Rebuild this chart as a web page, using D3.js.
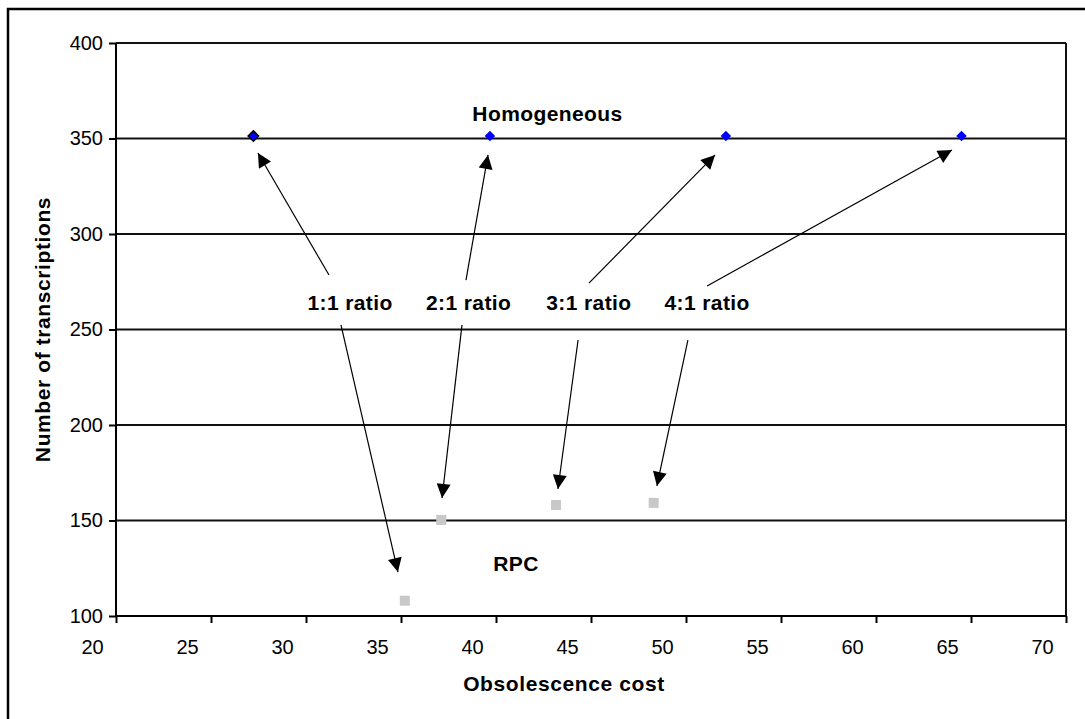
<!DOCTYPE html>
<html>
<head>
<meta charset="utf-8">
<script src="https://cdn.jsdelivr.net/npm/d3@7"></script>
<style>
  body { margin: 0; background: #fff; }
  svg { display: block; font-family: "Liberation Sans", Arial, sans-serif; }
</style>
</head>
<body>
<div class="chart_wrapper"></div>
<script>

// homogeneous series (blue diamonds)
const homogX = [27.23, 39.68, 52.1, 64.5]
const homogY = [351.3, 351.3, 351.3, 351.3]

// RPC series (grey squares)
const rpcX = [35.2, 37.12, 43.16, 48.3]
const rpcY = [108.0, 150.3, 158.1, 159.2]

const xTicks = [20, 25, 30, 35, 40, 45, 50, 55, 60, 65, 70]
const yTicks = [100, 150, 200, 250, 300, 350, 400]

// ratio labels with their two arrows (data coords)
const ratioLabels = ["1:1 ratio", "2:1 ratio", "3:1 ratio", "4:1 ratio"]
const labelX = [32.32, 38.56, 44.89, 51.11]
const labelY = [260.2, 260.2, 260.2, 260.2]
const upArrows = [
  [31.21, 278.5, 27.47, 342.4],
  [38.42, 275.9, 39.58, 341.4],
  [44.89, 274.3, 51.53, 341.4],
  [51.11, 272.8, 64.0, 344.0]
]
const downArrows = [
  [31.84, 252.4, 34.84, 123.0],
  [38.21, 252.4, 37.16, 161.8],
  [44.32, 244.5, 43.26, 166.5],
  [50.1, 244.5, 48.47, 168.1]
]

function drawChart() {

  const width = 1085, height = 719

  const svg = d3.select(".chart_wrapper")
    .append("svg")
      .attr("width", width)
      .attr("height", height)

  let dimensions = {
    margin: { top: 43, right: 19, bottom: 103, left: 116 }
  }
  dimensions.boundedWidth = width - dimensions.margin.left - dimensions.margin.right
  dimensions.boundedHeight = height - dimensions.margin.top - dimensions.margin.bottom

  // outer frame
  svg.append("rect")
    .attr("x", 8).attr("y", 9)
    .attr("width", 1100).attr("height", 800)
    .attr("fill", "none")
    .attr("stroke", "#000")
    .attr("stroke-width", 2.5)

  svg.append("defs").append("marker")
    .attr("id", "arrowhead")
    .attr("viewBox", "0 0 10 10")
    .attr("refX", 10).attr("refY", 5)
    .attr("markerUnits", "userSpaceOnUse")
    .attr("markerWidth", 17).attr("markerHeight", 14)
    .attr("orient", "auto")
    .append("path")
      .attr("d", "M0,0 L10,5 L0,10 Z")
      .attr("fill", "#000")

  const bounds = svg.append("g")
    .attr("transform", `translate(${dimensions.margin.left},${dimensions.margin.top})`)

  const xScale = d3.scaleLinear()
    .domain([20, 70])
    .range([0, dimensions.boundedWidth])

  const yScale = d3.scaleLinear()
    .domain([100, 400])
    .range([dimensions.boundedHeight, 0])

  // gridlines
  bounds.append("g")
    .selectAll("line")
    .data(yTicks.filter(d => d > 100))
    .join("line")
      .attr("x1", 0)
      .attr("x2", dimensions.boundedWidth)
      .attr("y1", d => yScale(d))
      .attr("y2", d => yScale(d))
      .attr("stroke", "#111")
      .attr("stroke-width", 2)

  // right border of plot
  bounds.append("line")
    .attr("x1", dimensions.boundedWidth).attr("x2", dimensions.boundedWidth)
    .attr("y1", 0).attr("y2", dimensions.boundedHeight)
    .attr("stroke", "#111").attr("stroke-width", 2)

  // y axis
  const yAxis = d3.axisLeft(yScale)
    .tickValues(yTicks)
    .tickSize(7)
    .tickPadding(6)

  const yAxisG = bounds.append("g").call(yAxis)
  yAxisG.select(".domain").attr("stroke-width", 2).attr("d", `M0,0V${dimensions.boundedHeight}`)
  yAxisG.selectAll(".tick line").attr("stroke-width", 2)
  yAxisG.selectAll("text")
    .attr("font-size", 20)
    .attr("font-family", "Liberation Sans, Arial, sans-serif")
    .attr("fill", "#000")

  // x axis (labels sit left of their ticks, like the original)
  const xAxis = d3.axisBottom(xScale)
    .tickValues(xTicks)
    .tickSize(7)
    .tickPadding(17)

  const xAxisG = bounds.append("g")
    .attr("transform", `translate(0,${dimensions.boundedHeight})`)
    .call(xAxis)
  xAxisG.select(".domain").attr("stroke-width", 2).attr("d", `M0,0H${dimensions.boundedWidth}`)
  xAxisG.selectAll(".tick line").attr("stroke-width", 2)
  xAxisG.selectAll("text")
    .attr("font-size", 20)
    .attr("font-family", "Liberation Sans, Arial, sans-serif")
    .attr("fill", "#000")
    .attr("x", -24)

  // axis titles
  svg.append("text")
    .attr("x", 564).attr("y", 691)
    .attr("text-anchor", "middle")
    .attr("font-weight", "bold")
    .attr("font-size", 21)
    .attr("letter-spacing", 0.6)
    .text("Obsolescence cost")

  svg.append("text")
    .attr("transform", `translate(50,${dimensions.margin.top + dimensions.boundedHeight / 2}) rotate(-90)`)
    .attr("text-anchor", "middle")
    .attr("font-weight", "bold")
    .attr("font-size", 21)
    .attr("letter-spacing", 0.6)
    .text("Number of transcriptions")

  // arrows
  const arrows = upArrows.concat(downArrows)
  bounds.append("g")
    .selectAll("line")
    .data(arrows)
    .join("line")
      .attr("x1", d => xScale(d[0]))
      .attr("y1", d => yScale(d[1]))
      .attr("x2", d => xScale(d[2]))
      .attr("y2", d => yScale(d[3]))
      .attr("stroke", "#000")
      .attr("stroke-width", 1.2)
      .attr("marker-end", "url(#arrowhead)")

  // ratio labels
  bounds.append("g")
    .selectAll("text")
    .data(ratioLabels)
    .join("text")
      .attr("x", (d, i) => xScale(labelX[i]))
      .attr("y", (d, i) => yScale(labelY[i]))
      .attr("text-anchor", "middle")
      .attr("font-weight", "bold")
      .attr("font-size", 21)
      .attr("letter-spacing", 0.4)
      .text(d => d)

  // series labels
  bounds.append("text")
    .attr("x", xScale(42.71)).attr("y", yScale(359.2))
    .attr("text-anchor", "middle")
    .attr("font-weight", "bold")
    .attr("font-size", 21)
    .attr("letter-spacing", 0.4)
    .text("Homogeneous")

  bounds.append("text")
    .attr("x", xScale(41.05)).attr("y", yScale(123.6))
    .attr("text-anchor", "middle")
    .attr("font-weight", "bold")
    .attr("font-size", 21)
    .attr("letter-spacing", 0.4)
    .text("RPC")

  // RPC squares
  const sq = 10
  bounds.append("g")
    .selectAll("rect")
    .data(rpcX)
    .join("rect")
      .attr("x", d => xScale(d) - sq / 2)
      .attr("y", (d, i) => yScale(rpcY[i]) - sq / 2)
      .attr("width", sq)
      .attr("height", sq)
      .attr("fill", "#c8c8c8")

  // homogeneous diamonds
  const diamond = d3.symbol().type(d3.symbolDiamond2).size(70)
  bounds.append("g")
    .selectAll("path")
    .data(homogX)
    .join("path")
      .attr("transform", (d, i) => `translate(${xScale(d)},${yScale(homogY[i])})`)
      .attr("d", diamond)
      .attr("fill", "#0000ff")
      .attr("stroke", (d, i) => i === 0 ? "#000" : "none")
      .attr("stroke-width", 1.5)
}

drawChart()
</script>
</body>
</html>
